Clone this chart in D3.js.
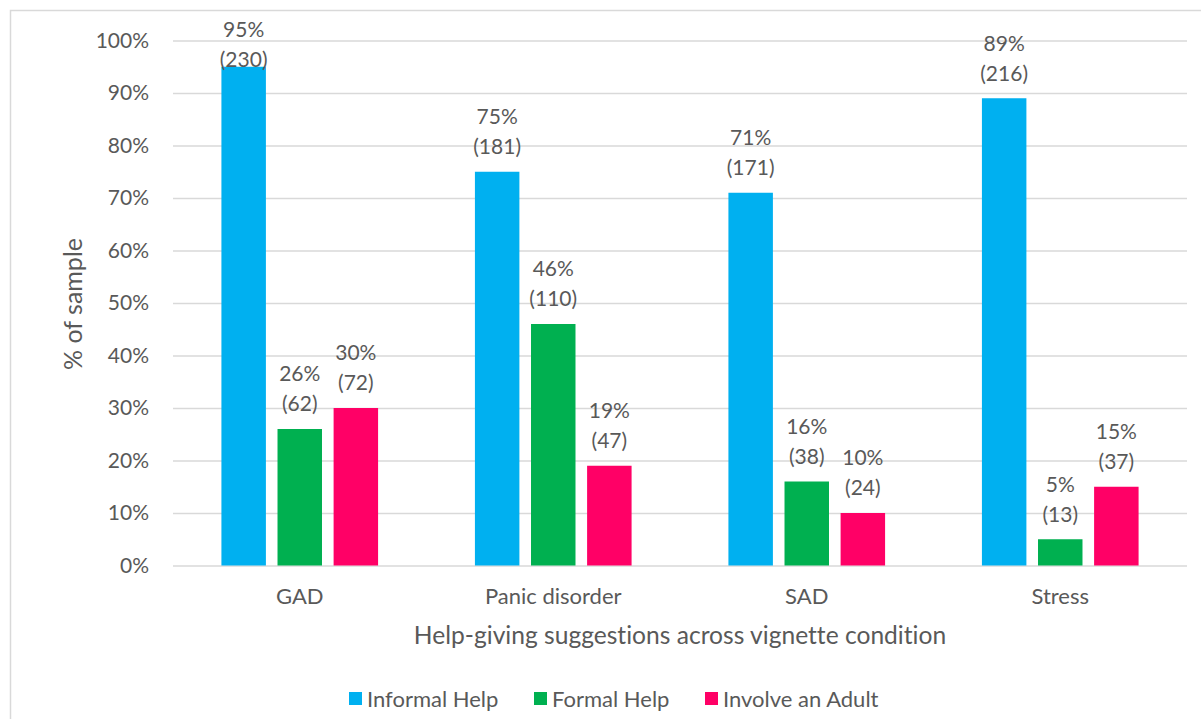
<!DOCTYPE html>
<html>
<head>
<meta charset="utf-8">
<script src="https://cdn.jsdelivr.net/npm/d3@7"></script>
<style>
  html, body { margin: 0; padding: 0; background: #fff; }
  svg { display: block; }
  text { font-family: Lato, "Open Sans", sans-serif; fill: #595959; font-variant-ligatures: none; }
</style>
</head>
<body>
<svg id="chart" width="1201" height="719"></svg>
<script>
// Vignette conditions and help-giving suggestion types
const categories = ["GAD", "Panic disorder", "SAD", "Stress"];
const seriesNames = ["Informal Help", "Formal Help", "Involve an Adult"];
const seriesColors = ["#00B0F0", "#00B050", "#FF0066"];

// Percent of sample per condition (order: GAD, Panic disorder, SAD, Stress)
const informalPct = [95, 75, 71, 89];
const formalPct = [26, 46, 16, 5];
const adultPct = [30, 19, 10, 15];

// Counts shown in brackets under each percentage
const informalN = [230, 181, 171, 216];
const formalN = [62, 110, 38, 13];
const adultN = [72, 47, 24, 37];

const yTickValues = [0, 10, 20, 30, 40, 50, 60, 70, 80, 90, 100];

const pctSeries = [informalPct, formalPct, adultPct];
const nSeries = [informalN, formalN, adultN];

const rows = [];
categories.forEach((c, ci) => {
  seriesNames.forEach((s, si) => {
    rows.push({ cat: c, series: s, si, pct: pctSeries[si][ci], n: nSeries[si][ci] });
  });
});

const svg = d3.select("#chart");

// Outer chart frame (runs past the right and bottom edges)
svg.append("rect")
  .attr("x", 10.5).attr("y", 10.5)
  .attr("width", 1210).attr("height", 730)
  .attr("fill", "none").attr("stroke", "#d9d9d9").attr("stroke-width", 1.5);

const plot = { left: 173, right: 1187, top: 40.5, bottom: 565.5 };

const y = d3.scaleLinear().domain([0, 100]).range([plot.bottom, plot.top]);

const x0 = d3.scaleBand()
  .domain(categories)
  .range([plot.left, plot.right])
  .paddingInner(0.382)
  .paddingOuter(0.191);

const x1 = d3.scaleBand()
  .domain(seriesNames)
  .range([0, x0.bandwidth()])
  .paddingInner(0.207)
  .paddingOuter(0);

const color = d3.scaleOrdinal().domain(seriesNames).range(seriesColors);

// Horizontal gridlines and percentage labels
const yAxis = d3.axisLeft(y)
  .tickValues(yTickValues)
  .tickSize(-(plot.right - plot.left))
  .tickPadding(24)
  .tickFormat(d => d + "%");

const gy = svg.append("g")
  .attr("transform", `translate(${plot.left},0)`)
  .call(yAxis);
gy.select(".domain").remove();
gy.selectAll(".tick line").attr("stroke", "#d9d9d9").attr("stroke-width", 1.5);
gy.selectAll(".tick text")
  .style("font-size", "21px")
  .attr("fill", "#595959");

// Category axis labels
const xAxis = d3.axisBottom(x0).tickSize(0).tickPadding(23);
const gx = svg.append("g")
  .attr("transform", `translate(0,${plot.bottom})`)
  .call(xAxis);
gx.select(".domain").remove();
gx.selectAll(".tick text")
  .style("font-size", "22px")
  .attr("fill", "#595959");

// Bars
const barG = svg.append("g");
barG.selectAll("rect")
  .data(rows)
  .join("rect")
  .attr("x", d => x0(d.cat) + x1(d.series))
  .attr("y", d => y(d.pct))
  .attr("width", x1.bandwidth())
  .attr("height", d => y(0) - y(d.pct))
  .attr("fill", d => color(d.series));

// Value labels: percentage above, count in brackets below
const labelG = svg.append("g");
rows.forEach(d => {
  const cx = x0(d.cat) + x1(d.series) + x1.bandwidth() / 2;
  let upper = y(d.pct) - 55;
  if (upper < 30) upper = 30;
  const t = labelG.append("text")
    .attr("x", cx)
    .attr("text-anchor", "middle")
    .style("font-size", "21px");
  t.append("tspan").attr("x", cx).attr("y", upper).attr("dy", "0.35em").text(d.pct + "%");
  t.append("tspan").attr("x", cx).attr("y", upper + 30).attr("dy", "0.35em").text("(" + d.n + ")");
});

// Axis titles
svg.append("text")
  .attr("x", (plot.left + plot.right) / 2)
  .attr("y", 635)
  .attr("dy", "0.35em")
  .attr("text-anchor", "middle")
  .style("font-size", "24.6px")
  .text("Help-giving suggestions across vignette condition");

svg.append("text")
  .attr("transform", "translate(73,304) rotate(-90)")
  .attr("dy", "0.35em")
  .attr("text-anchor", "middle")
  .style("font-size", "25px")
  .text("% of sample");

// Legend
const legendItems = [
  { name: seriesNames[0], x: 349 },
  { name: seriesNames[1], x: 534 },
  { name: seriesNames[2], x: 705 }
];
const lg = svg.append("g");
legendItems.forEach(item => {
  lg.append("rect")
    .attr("x", item.x).attr("y", 692)
    .attr("width", 13).attr("height", 13)
    .attr("fill", color(item.name));
  lg.append("text")
    .attr("x", item.x + 18)
    .attr("y", 699)
    .attr("dy", "0.35em")
    .style("font-size", "22px")
    .text(item.name);
});
</script>
</body>
</html>
